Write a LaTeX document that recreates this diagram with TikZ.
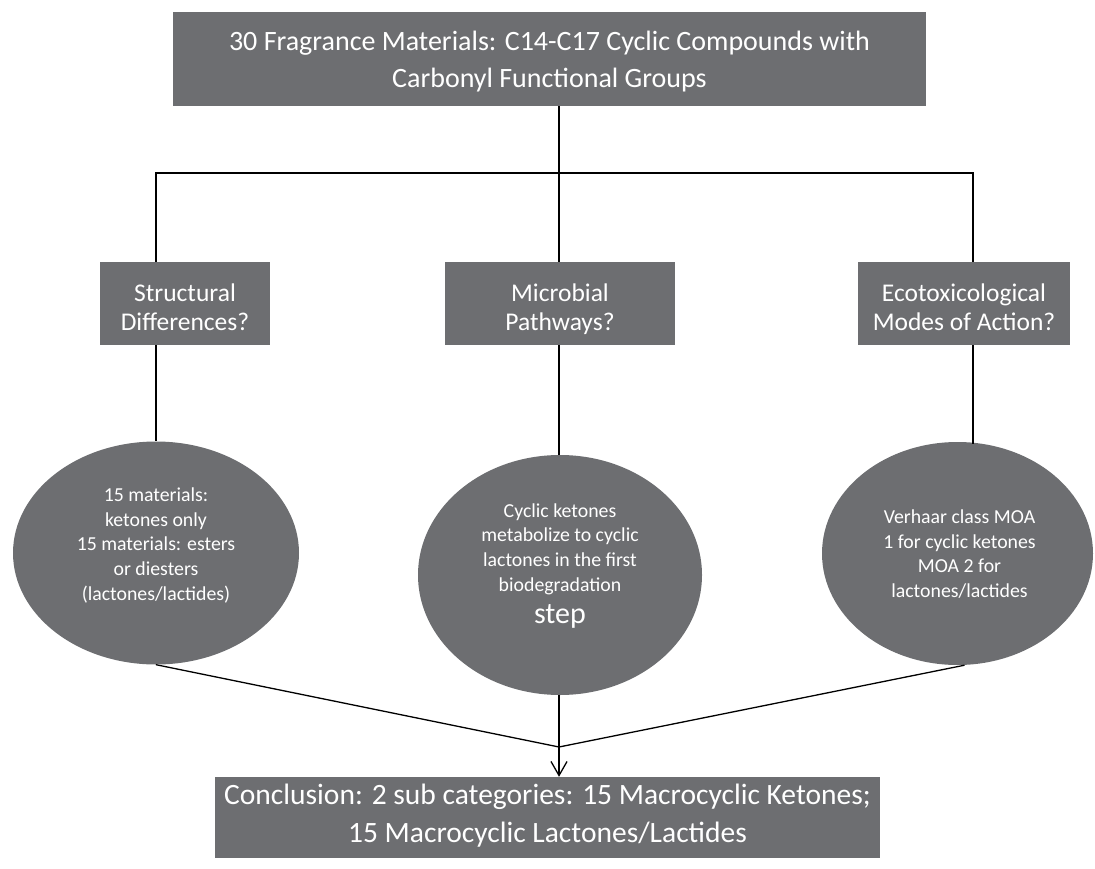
\documentclass[tikz,border=0pt]{standalone}
\usepackage{fontspec}
\setmainfont{Carlito}
\usetikzlibrary{shapes.geometric,arrows.meta,calc}
\definecolor{boxgray}{HTML}{6D6E71}
\begin{document}
\begin{tikzpicture}[x=1pt,y=-1pt,
  gbox/.style={draw=none,fill=boxgray,inner sep=0pt},
  gell/.style={ellipse,draw=none,fill=boxgray,inner sep=0pt},
  wtext/.style={text=white,align=center,inner sep=0pt},
  etext/.style={wtext,font=\fontsize{19.8}{24.8}\selectfont},
  btext/.style={wtext,font=\fontsize{25.5}{29}\selectfont},
  conn/.style={draw=black,line width=1.3pt}]
\useasboundingbox (0,0) rectangle (1095,869);
% top box
\node[gbox,minimum width=753pt,minimum height=94pt] (top) at (549.5,59) {};
\node[wtext,font=\fontsize{28}{36.5}\selectfont] (tt) at ($(top.center)+(0,2.5)$)
  {\strut 30 Fragrance Materials: C14-C17 Cyclic Compounds with\\Carbonyl Functional Groups\strut};
% question boxes
\node[gbox,minimum width=170pt,minimum height=83pt] (b1) at (185,303.5) {};
\node[btext] (bt1) at ($(b1.center)+(0,7)$) {\strut Structural\\Differences?\strut};
\node[gbox,minimum width=230pt,minimum height=83pt] (b2) at (560,303.5) {};
\node[btext] (bt2) at ($(b2.center)+(0,7)$) {\strut Microbial\\Pathways?\strut};
\node[gbox,minimum width=212pt,minimum height=83pt] (b3) at (964,303.5) {};
\node[btext] (bt3) at ($(b3.center)+(0,7)$) {\strut Ecotoxicological\\Modes of Action?\strut};
% ellipses
\node[gell,minimum width=286pt,minimum height=223pt] (e1) at (156,553) {};
\node[etext] (t1) at ($(e1.center)+(0,-7)$)
  {\strut 15 materials:\\ketones only\\15 materials: esters\\or diesters\\(lactones/lactides)\strut};
\node[gell,minimum width=284pt,minimum height=240pt] (e2) at (560,575) {};
\node[etext] (t2) at ($(e2.center)+(0,-11)$)
  {\strut Cyclic ketones\\metabolize to cyclic\\lactones in the first\\biodegradation\\[7pt]{\fontsize{30}{30}\selectfont step}};
\node[gell,minimum width=271pt,minimum height=223pt] (e3) at (957.5,553.5) {};
\node[etext] (t3) at ($(e3.center)+(2,2)$)
  {\strut Verhaar class MOA\\1 for cyclic ketones\\MOA 2 for\\lactones/lactides\strut};
% conclusion
\node[gbox,minimum width=665pt,minimum height=81pt] (c) at (547.5,817.5) {};
\node[wtext,font=\fontsize{29.5}{38}\selectfont] (ct) at ($(c.center)+(0,-2)$)
  {\strut Conclusion: 2 sub categories: 15 Macrocyclic Ketones;\\15 Macrocyclic Lactones/Lactides\strut};
% connectors
\coordinate (j) at (559,173);
\coordinate (k) at (559,747);
\draw[conn] (top.south -| j) -- (j);
\draw[conn] (b1.north -| e1.north) |- (j) -| (b3.north -| 973,0);
\draw[conn] (j) -- (b2.north -| j);
\draw[conn] (b1.south -| e1.north) -- (e1.north);
\draw[conn] (b2.south -| j) -- (e2.north -| j);
\draw[conn] (b3.south -| 973,0) -- ($(e3.north)+(15.5,2)$);
\draw[conn] (e1.south) -- (k);
\draw[conn] ($(e3.south)+(7,0)$) -- (k);
\draw[conn] (e2.south -| k) -- (k);
\draw[conn,-{Straight Barb[length=14pt,width=16pt,line width=1.3pt]}] (k) -- (c.north -| k);
\end{tikzpicture}
\end{document}
